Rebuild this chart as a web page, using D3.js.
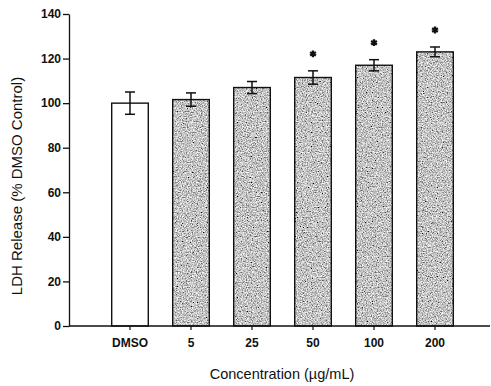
<!DOCTYPE html>
<html>
<head>
<meta charset="utf-8">
<script src="https://cdn.jsdelivr.net/npm/d3@7/dist/d3.min.js"></script>
<style>
  html, body { margin: 0; padding: 0; background: #fff; }
  svg { display: block; }
  text { font-family: "Liberation Sans", Arial, sans-serif; fill: #111; }
</style>
</head>
<body>
<svg id="chart" width="491" height="386"></svg>
<script>
// LDH release by treatment concentration, as % of the DMSO control
const categories = ["DMSO", "5", "25", "50", "100", "200"];
const means      = [100, 101.6, 107, 111.5, 117, 123];
const errors     = [5, 3, 2.7, 3, 2.5, 2.2];
const significant = [false, false, false, true, true, true];
const yTicks     = [0, 20, 40, 60, 80, 100, 120, 140];

const svg = d3.select("#chart");
const axisLeftX = 69, axisRightX = 490;
const yTop = 14, yBottom = 326;

const x = d3.scaleBand()
  .domain(categories)
  .range([99.5, 465.5])
  .paddingInner(0.4)
  .paddingOuter(0.2);

const y = d3.scaleLinear().domain([0, 140]).range([yBottom, yTop]);

// grainy grey fill for the treated bars
const defs = svg.append("defs");
const f = defs.append("filter").attr("id", "grain")
  .attr("x", 0).attr("y", 0).attr("width", 1).attr("height", 1)
  .attr("filterUnits", "objectBoundingBox");
f.append("feTurbulence")
  .attr("type", "fractalNoise").attr("baseFrequency", 0.8)
  .attr("numOctaves", 2).attr("seed", 7).attr("result", "noise");
f.append("feColorMatrix").attr("in", "noise").attr("type", "matrix")
  .attr("values", "1.7 0 0 0 -0.3  1.7 0 0 0 -0.3  1.7 0 0 0 -0.3  0 0 0 0 1")
  .attr("result", "grey");
f.append("feComposite").attr("in", "grey").attr("in2", "SourceGraphic").attr("operator", "in");

const data = categories.map((c, i) => ({ c, m: means[i], e: errors[i], sig: significant[i] }));

// bar fills
svg.append("g").selectAll("rect").data(data).join("rect")
  .attr("x", d => x(d.c)).attr("width", x.bandwidth())
  .attr("y", d => y(d.m)).attr("height", d => y(0) - y(d.m))
  .attr("fill", (d, i) => i === 0 ? "#fff" : "#888")
  .attr("filter", (d, i) => i === 0 ? null : "url(#grain)");

// bar outlines
svg.append("g").selectAll("rect").data(data).join("rect")
  .attr("x", d => x(d.c)).attr("width", x.bandwidth())
  .attr("y", d => y(d.m)).attr("height", d => y(0) - y(d.m))
  .attr("fill", "none").attr("stroke", "#111").attr("stroke-width", 1.4);

// error bars
const eb = svg.append("g").attr("stroke", "#111").attr("stroke-width", 1.5);
const cap = 5;
data.forEach(d => {
  const cx = x(d.c) + x.bandwidth() / 2;
  eb.append("line").attr("x1", cx).attr("x2", cx).attr("y1", y(d.m + d.e)).attr("y2", y(d.m - d.e));
  eb.append("line").attr("x1", cx - cap).attr("x2", cx + cap).attr("y1", y(d.m + d.e)).attr("y2", y(d.m + d.e));
  eb.append("line").attr("x1", cx - cap).attr("x2", cx + cap).attr("y1", y(d.m - d.e)).attr("y2", y(d.m - d.e));
});

// significance markers
svg.append("g").selectAll("path").data(data.filter(d => d.sig)).join("path")
  .attr("d", d3.symbol(d3.symbolAsterisk, 32))
  .attr("transform", d => `translate(${x(d.c) + x.bandwidth() / 2},${y(d.m + d.e) - 17})`)
  .attr("stroke", "#111").attr("stroke-width", 2.3).attr("fill", "none");

// y axis
const yAxis = svg.append("g").attr("transform", `translate(${axisLeftX},0)`)
  .call(d3.axisLeft(y).tickValues(yTicks).tickSize(6).tickSizeOuter(0).tickPadding(2));
yAxis.selectAll("line, path").attr("stroke", "#111").attr("stroke-width", 1.3);
yAxis.selectAll("text").style("font-size", "12px").style("font-weight", "bold")
  .attr("fill", "#111");

// x axis
svg.append("line").attr("x1", axisLeftX).attr("x2", axisRightX)
  .attr("y1", yBottom).attr("y2", yBottom)
  .attr("stroke", "#111").attr("stroke-width", 1.5);
const xAxis = svg.append("g").attr("transform", `translate(0,${yBottom})`)
  .call(d3.axisBottom(x).tickSize(4).tickPadding(8));
xAxis.select(".domain").remove();
xAxis.selectAll("line").attr("stroke", "#111").attr("stroke-width", 1.2);
xAxis.selectAll("text").style("font-size", "12px").style("font-weight", "bold")
  .attr("fill", "#111");

// axis titles
svg.append("text")
  .attr("x", 282).attr("y", 379)
  .attr("text-anchor", "middle")
  .style("font-size", "14.5px")
  .text("Concentration (µg/mL)");

svg.append("text")
  .attr("transform", "translate(22,186) rotate(-90)")
  .attr("text-anchor", "middle")
  .style("font-size", "15px")
  .text("LDH Release (% DMSO Control)");
</script>
</body>
</html>
